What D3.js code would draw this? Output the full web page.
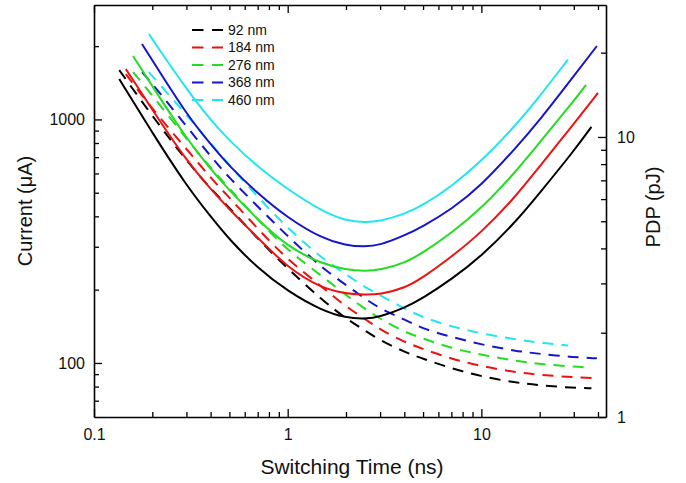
<!DOCTYPE html>
<html>
<head>
<meta charset="utf-8">
<script src="https://cdn.jsdelivr.net/npm/d3@7/dist/d3.min.js"></script>
<style>
    body { margin: 0; background: #fff; }
    svg { font-family: Arial, 'Liberation Sans', sans-serif; }
</style>
</head>
<body>
<svg width="686" height="483"></svg>
<script>
// free layer widths (legend) and line colours
const widths = ['92 nm', '184 nm', '276 nm', '368 nm', '460 nm'];
const colors = ['#000000', '#ee1111', '#22dd22', '#1515cc', '#22e6ee'];

// switching time (ns), PDP (pJ, solid) and current (uA, dashed) per width
const time92 = [0.135, 0.2, 0.3, 0.4, 0.5, 0.7, 1, 1.5, 2, 2.5, 3, 4, 5, 7, 10, 15, 20, 30, 37];
const pdp92 = [16.1, 10.35, 6.7, 5.2, 4.3, 3.4, 2.81, 2.4, 2.26, 2.24, 2.28, 2.45, 2.66, 3.1, 3.75, 4.96, 6.31, 8.91, 10.86];
const current92 = [1594, 1032, 677, 519, 435, 323, 244, 182, 152, 136, 124, 111, 104, 95, 88, 83, 81, 79, 78.7];

const time184 = [0.146, 0.2, 0.3, 0.4, 0.5, 0.7, 1, 1.5, 2, 2.5, 3, 4, 5, 7, 10, 15, 20, 30, 40];
const pdp184 = [17.49, 12.5, 8.23, 6.52, 5.51, 4.37, 3.41, 2.88, 2.76, 2.73, 2.74, 2.88, 3.15, 3.73, 4.56, 6.11, 7.85, 11.14, 14.36];
const current184 = [1535, 1102, 758, 575, 478, 356, 265, 206, 170, 152, 137, 122, 114, 104, 97, 91.5, 89.4, 87.3, 86.5];

const time276 = [0.159, 0.2, 0.3, 0.4, 0.5, 0.7, 1, 1.5, 2, 2.5, 3, 4, 5, 7, 10, 15, 20, 30, 34.7];
const pdp276 = [19.47, 15.18, 9.87, 7.67, 6.45, 5.07, 4.05, 3.52, 3.36, 3.32, 3.35, 3.54, 3.86, 4.54, 5.55, 7.49, 9.57, 13.44, 15.34];
const current276 = [1564, 1256, 833, 633, 520, 388, 289, 228, 190, 167, 152, 134, 126, 115, 108, 102, 99, 96.5, 96];

const time368 = [0.177, 0.2, 0.3, 0.4, 0.5, 0.7, 1, 1.5, 2, 2.5, 3, 4, 5, 7, 10, 15, 20, 30, 39.5];
const pdp368 = [21.48, 18.79, 12.06, 9.42, 7.86, 6.28, 5.14, 4.34, 4.1, 4.05, 4.11, 4.44, 4.8, 5.51, 6.71, 9.11, 11.47, 16.5, 21.13];
const current368 = [1564, 1402, 939, 705, 575, 439, 331, 246, 209, 184, 167, 151, 138, 128, 119, 112, 109, 105.5, 104.5];

const time460 = [0.192, 0.3, 0.4, 0.5, 0.7, 1, 1.5, 2, 2.5, 3, 4, 5, 7, 10, 15, 20, 28];
const pdp460 = [23.33, 14.8, 11.49, 9.7, 7.82, 6.5, 5.44, 5.02, 4.95, 5.0, 5.3, 5.7, 6.65, 8.19, 10.97, 13.97, 18.9];
const current460 = [1564, 1048, 795, 651, 480, 358, 269, 231, 205, 190, 167, 154, 141, 132, 125, 121, 118];

// axis ticks
const xMajor = [0.1, 1, 10];
const xMinor = [0.2, 0.3, 0.4, 0.5, 0.6, 0.7, 0.8, 0.9, 2, 3, 4, 5, 6, 7, 8, 9, 20, 30, 40];
const yLeftMajor = [100, 1000];
const yLeftMinor = [70, 80, 90, 200, 300, 400, 500, 600, 700, 800, 900, 2000];
const yRightMajor = [1, 10];
const yRightMinor = [2, 3, 4, 5, 6, 7, 8, 9, 20];

const times = [time92, time184, time276, time368, time460];
const pdps = [pdp92, pdp184, pdp276, pdp368, pdp460];
const currents = [current92, current184, current276, current368, current460];

const svg = d3.select('svg');

const margin = { top: 5, bottom: 66, left: 94, right: 80 };
const width = +svg.attr('width') - margin.left - margin.right;
const height = +svg.attr('height') - margin.top - margin.bottom;

const chart = svg
    .append('g')
    .attr('transform', `translate(${margin.left},${margin.top})`);

// Create scales
const xScale = d3.scaleLog().domain([0.1, 44]).range([0, width]);
const yLeft = d3.scaleLog().domain([60, 2950]).range([height, 0]);
const yRight = d3.scaleLog().domain([1, 29.6]).range([height, 0]);

const fmt = d3.format('');

function styleAxis(g) {
    g.select('.domain').attr('stroke-width', 1.6);
    g.selectAll('.tick line').attr('stroke-width', 1.3);
    g.selectAll('text').style('font-size', '16px').attr('fill', '#111');
}

// bottom axis
chart.append('g')
    .attr('transform', `translate(0,${height})`)
    .call(d3.axisBottom(xScale).tickValues(xMajor).tickSize(-8).tickSizeOuter(0).tickPadding(12).tickFormat(fmt))
    .call(styleAxis);
chart.append('g')
    .attr('transform', `translate(0,${height})`)
    .call(d3.axisBottom(xScale).tickValues(xMinor).tickSize(-5).tickFormat(''))
    .call(g => g.select('.domain').remove())
    .call(styleAxis);

// top axis (ticks only)
chart.append('g')
    .call(d3.axisTop(xScale).tickValues(xMajor).tickSize(-8).tickSizeOuter(0).tickFormat(''))
    .call(styleAxis);
chart.append('g')
    .call(d3.axisTop(xScale).tickValues(xMinor).tickSize(-5).tickFormat(''))
    .call(g => g.select('.domain').remove())
    .call(styleAxis);

// left axis, current
chart.append('g')
    .call(d3.axisLeft(yLeft).tickValues(yLeftMajor).tickSize(-8).tickSizeOuter(0).tickPadding(9).tickFormat(fmt))
    .call(styleAxis);
chart.append('g')
    .call(d3.axisLeft(yLeft).tickValues(yLeftMinor).tickSize(-5).tickFormat(''))
    .call(g => g.select('.domain').remove())
    .call(styleAxis);

// right axis, PDP
chart.append('g')
    .attr('transform', `translate(${width},0)`)
    .call(d3.axisRight(yRight).tickValues(yRightMajor).tickSize(-8).tickSizeOuter(0).tickPadding(11).tickFormat(fmt))
    .call(styleAxis);
chart.append('g')
    .attr('transform', `translate(${width},0)`)
    .call(d3.axisRight(yRight).tickValues(yRightMinor).tickSize(-5).tickFormat(''))
    .call(g => g.select('.domain').remove())
    .call(styleAxis);

// axis titles
svg.append('text')
    .attr('x', margin.left + width / 2 + 2)
    .attr('y', 467)
    .attr('dy', '0.35em')
    .style('text-anchor', 'middle')
    .style('font-size', '21px')
    .attr('fill', '#111')
    .text('Switching Time (ns)');

svg.append('text')
    .attr('transform', 'translate(25,211) rotate(-90)')
    .attr('dy', '0.35em')
    .style('text-anchor', 'middle')
    .style('font-size', '20px')
    .attr('fill', '#111')
    .text('Current (\u03bcA)');

svg.append('text')
    .attr('transform', 'translate(653,207) rotate(-90)')
    .attr('dy', '0.35em')
    .style('text-anchor', 'middle')
    .style('font-size', '20px')
    .attr('fill', '#111')
    .text('PDP (pJ)');

// curves
const pdpLine = d3.line()
    .x(d => xScale(d[0]))
    .y(d => yRight(d[1]))
    .curve(d3.curveBasis);

const currentLine = d3.line()
    .x(d => xScale(d[0]))
    .y(d => yLeft(d[1]))
    .curve(d3.curveBasis);

times.forEach(function(t, i) {
    chart.append('path')
        .datum(t.map((v, j) => [v, currents[i][j]]))
        .attr('d', currentLine)
        .attr('fill', 'none')
        .attr('stroke', colors[i])
        .attr('stroke-width', 2)
        .attr('stroke-dasharray', '11,8');
});

times.forEach(function(t, i) {
    chart.append('path')
        .datum(t.map((v, j) => [v, pdps[i][j]]))
        .attr('d', pdpLine)
        .attr('fill', 'none')
        .attr('stroke', colors[i])
        .attr('stroke-width', 2);
});

// legend
const legend = svg.append('g')
    .attr('transform', 'translate(192,30)')
    .selectAll('.legend')
    .data(widths)
    .enter()
    .append('g')
    .attr('class', 'legend')
    .attr('transform', (d, i) => `translate(0,${i * 17.5})`);

legend.append('line')
    .attr('x1', 0)
    .attr('x2', 31)
    .attr('stroke', (d, i) => colors[i])
    .attr('stroke-width', 2)
    .attr('stroke-dasharray', '11.5,8.5');

legend.append('text')
    .attr('x', 36)
    .attr('dy', '0.35em')
    .style('font-size', '14px')
    .attr('fill', '#111')
    .text(d => d);
</script>
</body>
</html>
